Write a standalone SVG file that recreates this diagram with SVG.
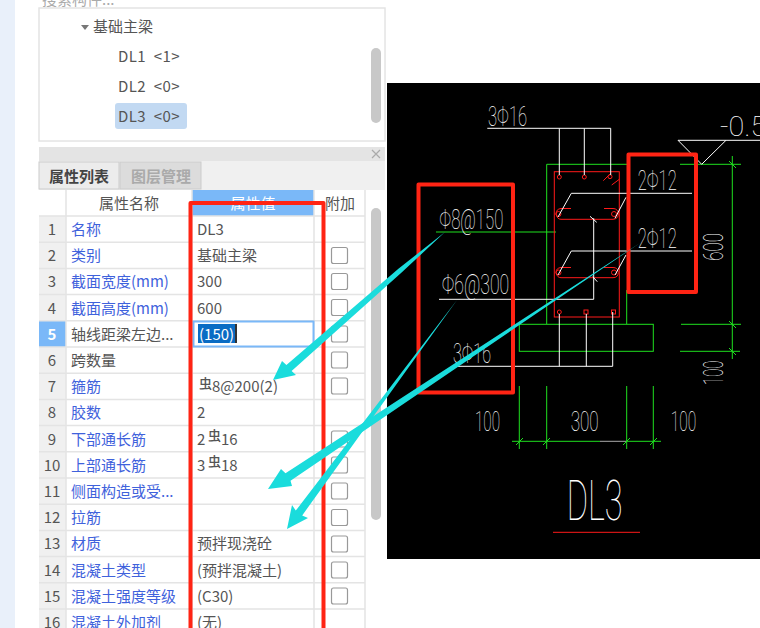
<svg xmlns="http://www.w3.org/2000/svg" width="760" height="628" viewBox="0 0 760 628">
<style>
text{font-family:"Noto Sans CJK SC","Noto Sans",sans-serif;font-size:15px;fill:#555}
.b{fill:#3f62dc}
.n{text-anchor:middle;fill:#555;font-size:15px}
.h{text-anchor:middle}
.sy{font-size:13px;font-weight:500}
.tr{word-spacing:4px;letter-spacing:.4px}
.grid{stroke:#e4e4e4;stroke-width:1.5;fill:none}
.cb{fill:#fff;stroke:#999;stroke-width:1.2}
text.cad{font-family:"Roboto","Liberation Sans",sans-serif;font-weight:100;fill:#fff;font-size:28px}
.w{stroke:#fff;stroke-width:1;fill:none}
.g{stroke:#1fe01f;stroke-width:1;fill:none}
.r{stroke:#ff1a1a;stroke-width:1;fill:none}
.box{stroke:#ff2414;stroke-width:4;fill:none;stroke-linejoin:round}
.arrow{fill:#1adcdc}
</style>
<rect width="760" height="628" fill="#fff"/>
<rect width="15" height="628" fill="#e9f0fa"/>
<g id="tree-panel">
<text x="42" y="5" style="fill:#aaa">搜索构件...</text>
<rect x="39" y="8" width="346" height="133" fill="#fff" stroke="#e4e4e4" stroke-width="1.500"/>
<path d="M81 25h8l-4 5z" fill="#777"/>
<text x="93" y="32">基础主梁</text>
<rect x="115" y="103" width="72" height="26" rx="3" fill="#c2d9f2"/>
<text class="tr" x="118" y="62">DL1 &lt;1&gt;</text>
<text class="tr" x="118" y="92">DL2 &lt;0&gt;</text>
<text class="tr" x="118" y="122">DL3 &lt;0&gt;</text>
<rect x="371" y="48" width="10" height="75" rx="5" fill="#c8c8c8"/>
</g>
<g id="property-panel">
<rect x="39" y="147" width="346" height="481" fill="#fff"/>
<rect x="39" y="147" width="346" height="14" fill="#e4e4e4"/>
<path d="M372 150l8 8M380 150l-8 8" stroke="#aaa" stroke-width="1.200"/>
<rect x="39" y="161" width="346" height="29" fill="#f0f0f0"/>
<rect x="39" y="162" width="80" height="27" fill="#ececec" stroke="#ccc"/>
<rect x="120" y="162" width="81" height="27" fill="#dcdcdc" stroke="#ccc"/>
<text x="49" y="182" style="font-weight:700;fill:#444">属性列表</text>
<text x="131" y="182" style="font-weight:700;fill:#aaa">图层管理</text>
<rect x="39" y="190" width="326" height="26" fill="#fff"/>
<rect x="192" y="190" width="122" height="26" fill="#7ab8f8"/>
<text x="129" y="209" class="h">属性名称</text>
<text x="253" y="209" class="h" style="fill:#fff">属性值</text>
<text x="340" y="209" class="h">附加</text>
<rect x="39" y="216" width="27" height="412" fill="#f0f0f0"/>
<rect x="39" y="321" width="27" height="26" fill="#7ab8f8"/>
<path class="grid" d="M39 216H365M39 242.200H365M39 268.400H365M39 294.600H365M39 320.800H365M39 347H365M39 373.200H365M39 399.400H365M39 425.600H365M39 451.800H365M39 478H365M39 504.200H365M39 530.400H365M39 556.600H365M39 582.800H365M39 609H365M66 190V628M192 190V628M314 190V628M365 190V628"/>
<rect x="371" y="208" width="10" height="312" rx="5" fill="#c8c8c8"/>
<text x="52" y="235" class="n">1</text><text x="52" y="261.200" class="n">2</text><text x="52" y="287.400" class="n">3</text><text x="52" y="313.600" class="n">4</text>
<text x="52" y="339.800" class="n" style="fill:#fff;font-weight:700">5</text>
<text x="52" y="366" class="n">6</text><text x="52" y="392.200" class="n">7</text><text x="52" y="418.400" class="n">8</text><text x="52" y="444.600" class="n">9</text><text x="52" y="470.800" class="n">10</text><text x="52" y="497" class="n">11</text><text x="52" y="523.200" class="n">12</text><text x="52" y="549.400" class="n">13</text><text x="52" y="575.600" class="n">14</text><text x="52" y="601.800" class="n">15</text><text x="52" y="628" class="n">16</text>
<text x="71" y="235" class="b">名称</text>
<text x="71" y="261.200" class="b">类别</text>
<text x="71" y="287.400" class="b">截面宽度(mm)</text>
<text x="71" y="313.600" class="b">截面高度(mm)</text>
<text x="71" y="339.800">轴线距梁左边...</text>
<text x="71" y="366">跨数量</text>
<text x="71" y="392.200" class="b">箍筋</text>
<text x="71" y="418.400" class="b">胶数</text>
<text x="71" y="444.600" class="b">下部通长筋</text>
<text x="71" y="470.800" class="b">上部通长筋</text>
<text x="71" y="497" class="b">侧面构造或受...</text>
<text x="71" y="523.200" class="b">拉筋</text>
<text x="71" y="549.400" class="b">材质</text>
<text x="71" y="575.600" class="b">混凝土类型</text>
<text x="71" y="601.800" class="b">混凝土强度等级</text>
<text x="71" y="628" class="b">混凝土外加剂</text>
<text x="197" y="235">DL3</text>
<text x="197" y="261.200">基础主梁</text>
<text x="197" y="287.400">300</text>
<text x="197" y="313.600">600</text>
<rect x="193.500" y="321.500" width="120" height="25" fill="#fff" stroke="#7ab8f8" stroke-width="2"/>
<rect x="198" y="324" width="37" height="19" fill="#0a6cc4"/>
<rect x="235" y="324" width="2" height="19" fill="#333"/>
<text x="199" y="339.800" style="fill:#fff">(150)</text>
<text x="199" y="388" class="sy">虫</text><text x="212" y="392.200">8@200(2)</text>
<text x="197" y="418.400">2</text>
<text x="197" y="444.600">2</text><text x="208" y="440" class="sy">虫</text><text x="221" y="444.600">16</text>
<text x="197" y="470.800">3</text><text x="208" y="466" class="sy">虫</text><text x="221" y="470.800">18</text>
<text x="197" y="549.400">预拌现浇砼</text>
<text x="197" y="575.600">(预拌混凝土)</text>
<text x="197" y="601.800">(C30)</text>
<text x="197" y="628">(无)</text>
<rect class="cb" x="331.500" y="247.500" width="16" height="16" rx="2"/><rect class="cb" x="331.500" y="273.500" width="16" height="16" rx="2"/><rect class="cb" x="331.500" y="299.500" width="16" height="16" rx="2"/><rect class="cb" x="331.500" y="326" width="16" height="16" rx="2"/><rect class="cb" x="331.500" y="352" width="16" height="16" rx="2"/><rect class="cb" x="331.500" y="378" width="16" height="16" rx="2"/><rect class="cb" x="331.500" y="431" width="16" height="16" rx="2"/><rect class="cb" x="331.500" y="457" width="16" height="16" rx="2"/><rect class="cb" x="331.500" y="483" width="16" height="16" rx="2"/><rect class="cb" x="331.500" y="509.500" width="16" height="16" rx="2"/><rect class="cb" x="331.500" y="536" width="16" height="16" rx="2"/><rect class="cb" x="331.500" y="562" width="16" height="16" rx="2"/><rect class="cb" x="331.500" y="588" width="16" height="16" rx="2"/>
</g>
<g id="cad-drawing">
<rect x="387" y="83" width="373" height="476" fill="#000"/>
<g id="cad-green">
<path class="g" d="M546.700 324V164.300H627M680 164.300H741M626.700 290V324M436 232H556"/>
<rect class="g" x="519.300" y="324.300" width="134" height="27"/>
<path class="g" d="M732.300 156V359M681 324.300H741M680 351.300H740M512 441.300H600M626 441.300H661M519.300 386V449M546.700 386V449M626.700 386V449M653.300 386V449"/>
<path d="M600 441.300H626" stroke="#aaa" stroke-width="1"/>
<path class="g" d="M729 161l7 7M729 321l7 7M729 348l7 7M516 445l7-7M543 445l7-7M623 445l7-7M650 445l7-7"/>
</g>
<g id="cad-rebar">
<rect class="r" x="554.300" y="171.700" width="65" height="145.300"/>
<circle class="r" cx="559.300" cy="177" r="2"/><circle class="r" cx="584.300" cy="177" r="2"/><circle class="r" cx="610" cy="176.700" r="2"/>
<path class="r" d="M603.300 180.700L610.700 173.300M611.700 185L619.300 179.300"/>
<path class="r" d="M571 208.500H561Q556 209 556 214Q557 219.300 561 219.300H613Q618.300 219 618.300 214Q618 208.500 613 208.500H604"/>
<circle class="r" cx="558.500" cy="214" r="2.500"/><circle class="r" cx="614" cy="214" r="2.500"/>
<path class="r" d="M571 267.500H561Q556 268 556 272.500Q557 277.700 561 277.700H613Q618.300 277.500 618.300 272.500Q618 267.500 613 267.500H604"/>
<circle class="r" cx="558.500" cy="272.500" r="2.500"/><circle class="r" cx="614" cy="272.500" r="2.500"/>
<circle class="r" cx="559.300" cy="312" r="2"/><rect class="r" x="584" y="310" width="4" height="4"/><rect class="r" x="611.500" y="310" width="4" height="4"/>
<path class="r" d="M553 532.300H640"/>
</g>
<g id="cad-leaders">
<path class="w" d="M487.300 128.300H610.700M559.300 128.300V175M584.300 128.300V175M610.700 128.300V175"/>
<path class="w" d="M678 140.300L701.700 164.300L726 140.300H760M678 140.300H726"/>
<path class="w" d="M692 193.300H571.300L558 217M626 197.300L615 218.300M692 251H571.300L558 275M626 255L615 275"/>
<path class="w" d="M439 299.300H593.700V218.300M590 216.300L596.700 222.300M592.700 276.700L597.300 281.700"/>
<path class="w" d="M458 366.300H612.700V312M559.300 314V366.300M586.300 314V366.300"/>
</g>
<g id="cad-text">
<text class="cad" x="488" y="126" textLength="39" lengthAdjust="spacingAndGlyphs">3Φ16</text>
<text class="cad" x="637.700" y="190" textLength="39" lengthAdjust="spacingAndGlyphs">2Φ12</text>
<text class="cad" x="637.700" y="248.300" textLength="39" lengthAdjust="spacingAndGlyphs">2Φ12</text>
<text class="cad" x="439.300" y="229" textLength="64" lengthAdjust="spacingAndGlyphs">Φ8@150</text>
<text class="cad" x="441.700" y="294" textLength="67.500" lengthAdjust="spacingAndGlyphs">Φ6@300</text>
<text class="cad" x="453" y="363" textLength="38" lengthAdjust="spacingAndGlyphs">3Φ16</text>
<text class="cad" x="475" y="431" textLength="25" lengthAdjust="spacingAndGlyphs">100</text>
<text class="cad" x="570.700" y="431" textLength="28" lengthAdjust="spacingAndGlyphs">300</text>
<text class="cad" x="670.700" y="431" textLength="25.500" lengthAdjust="spacingAndGlyphs">100</text>
<text class="cad" transform="translate(723 260.700) rotate(-90)" textLength="27.500" lengthAdjust="spacingAndGlyphs">600</text>
<text class="cad" transform="translate(722.700 385) rotate(-90)" textLength="24.500" lengthAdjust="spacingAndGlyphs">100</text>
<text class="cad" x="720" y="135.700" textLength="62" lengthAdjust="spacingAndGlyphs">-0.50</text>
<text class="cad" x="566.700" y="520" style="font-size:55px" textLength="56" lengthAdjust="spacingAndGlyphs">DL3</text>
</g>
</g>
<g id="connectors">
<g id="highlight-boxes">
<path class="box" d="M190.500 628V203H323.500V628"/>
<rect class="box" x="628.500" y="154.500" width="67.500" height="137.500"/>
<rect class="box" x="418.500" y="184.500" width="94.500" height="208"/>
</g>
<polygon class="arrow" points="445,232 401.600,272.600 291.600,371 296,375 273,380 282,361 286.400,365 398.400,268.800"/>
<polygon class="arrow" points="640,243 290.500,480.750 292,486 268,489 281,469 285.500,473.250"/>
<polygon class="arrow" points="457,300 302.200,515.400 308,518 287,529 292,505 295.800,510.600"/>
</g>
</svg>
